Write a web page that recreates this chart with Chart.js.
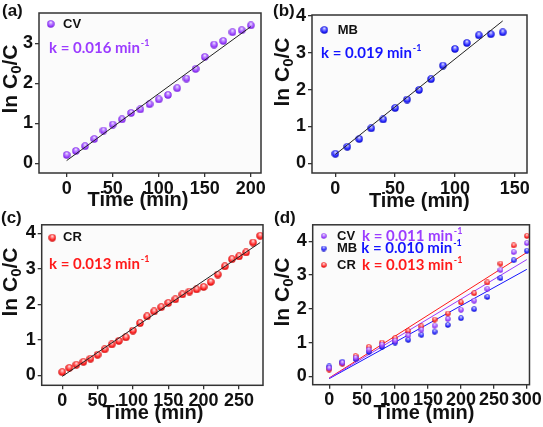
<!DOCTYPE html>
<html>
<head>
<meta charset="utf-8">
<script src="https://cdn.jsdelivr.net/npm/chart.js@4.4.0/dist/chart.umd.min.js"></script>
<style>
  body { margin: 0; background: #fff; width: 543px; height: 427px; overflow: hidden; position: relative; }
  canvas { position: absolute; }
  .lbl { position: absolute; font-family: "Liberation Sans", Arial, sans-serif; font-weight: bold; font-size: 17px; line-height: 17px; color: #111; }
</style>
</head>
<body>
<canvas id="chartA" width="272" height="212" style="left:0;top:0"></canvas>
<canvas id="chartB" width="271" height="212" style="left:272px;top:0"></canvas>
<canvas id="chartC" width="272" height="215" style="left:0;top:212px"></canvas>
<canvas id="chartD" width="271" height="215" style="left:272px;top:212px"></canvas>
<div class="lbl" style="left:2px;top:2px">(a)</div>
<div class="lbl" style="left:273px;top:2px">(b)</div>
<div class="lbl" style="left:1px;top:209px">(c)</div>
<div class="lbl" style="left:274px;top:209px">(d)</div>
<script>
// (a) CV
var xTicksA = [0, 50, 100, 150, 200];
var yTicksA = [0, 1, 2, 3];
var timeA = [0, 10, 20, 30, 40, 50, 60, 70, 80, 90, 100, 110, 120, 130, 140, 150, 160, 170, 180, 190, 200];
var cvA = [0.21, 0.31, 0.43, 0.61, 0.82, 0.97, 1.10, 1.26, 1.35, 1.48, 1.60, 1.71, 1.88, 2.12, 2.36, 2.66, 2.97, 3.06, 3.28, 3.33, 3.45];
var fitTimeA = [0, 200];
var fitA = [0.07, 3.42];

// (b) MB
var xTicksB = [0, 50, 100, 150];
var yTicksB = [0, 1, 2, 3, 4];
var timeB = [0, 10, 20, 30, 40, 50, 60, 70, 80, 90, 100, 110, 120, 130, 140];
var mbB = [0.26, 0.45, 0.66, 0.95, 1.19, 1.50, 1.73, 1.99, 2.28, 2.65, 3.10, 3.26, 3.47, 3.50, 3.55];
var fitTimeB = [0, 140];
var fitB = [0.24, 3.86];

// (c) CR
var xTicksC = [0, 50, 100, 150, 200, 250];
var yTicksC = [0, 1, 2, 3, 4];
var timeC = [0, 10, 20, 30, 40, 50, 60, 70, 80, 90, 100, 110, 120, 130, 140, 150, 160, 170, 180, 190, 200, 210, 220, 230, 240, 250, 260, 270, 280];
var crC = [0.09, 0.21, 0.30, 0.38, 0.47, 0.58, 0.73, 0.87, 0.97, 1.07, 1.26, 1.47, 1.66, 1.80, 1.92, 2.04, 2.14, 2.28, 2.36, 2.42, 2.49, 2.63, 2.84, 3.07, 3.27, 3.35, 3.46, 3.74, 3.93];
var fitTimeC = [0, 280];
var fitC = [-0.03, 3.74];

// (d) all three
var xTicksD = [0, 50, 100, 150, 200, 250, 300];
var yTicksD = [0, 1, 2, 3, 4];
var timeD = [0, 20, 40, 60, 80, 100, 120, 140, 160, 180, 200, 220, 240, 260, 280, 300];
var cvD = [0.24, 0.40, 0.55, 0.79, 0.94, 1.06, 1.21, 1.38, 1.50, 1.70, 1.97, 2.24, 2.59, 3.15, 3.68, 3.95];
var mbD = [0.29, 0.43, 0.51, 0.72, 0.87, 1.00, 1.08, 1.23, 1.32, 1.52, 1.72, 1.99, 2.35, 2.91, 3.44, 3.72];
var crD = [0.20, 0.37, 0.60, 0.87, 1.00, 1.13, 1.34, 1.48, 1.68, 1.86, 2.19, 2.46, 2.78, 3.34, 3.88, 4.16];
var fitTimeD = [0, 300];
var fitCvD = [-0.06, 3.46];
var fitMbD = [-0.07, 3.17];
var fitCrD = [-0.05, 3.67];

var PURPLE = "#9b3cff", BLUE = "#1414ff", RED = "#ff1a1a";
var FONT = '"Liberation Sans", Arial, sans-serif';

function pts(xs, ys) {
  return xs.map(function (x, i) { return { x: x, y: ys[i] }; });
}

// little shaded sphere used as marker
function ball(light, col, dark, d) {
  var c = document.createElement("canvas");
  c.width = d; c.height = d;
  var g = c.getContext("2d");
  var r = d / 2;
  var grad = g.createRadialGradient(r, r * 0.5, 0, r, r, r);
  grad.addColorStop(0, "#ffffff");
  grad.addColorStop(0.3, light);
  grad.addColorStop(0.7, col);
  grad.addColorStop(1, dark);
  g.fillStyle = grad;
  g.beginPath(); g.arc(r, r, r - 0.3, 0, Math.PI * 2); g.fill();
  return c;
}

var ballCv = ball("#c9a0ff", "#9a40ff", "#6a1ad0", 8), ballMb = ball("#9090ff", "#2222ff", "#0000b0", 8), ballCr = ball("#ff9a9a", "#ff2020", "#c00000", 8);
var ballCvS = ball("#c9a0ff", "#9a40ff", "#6a1ad0", 6), ballMbS = ball("#9090ff", "#2222ff", "#0000b0", 6), ballCrS = ball("#ff9a9a", "#ff2020", "#c00000", 6);

function scatterSet(label, data, img) {
  return { label: label, data: data, pointStyle: img, pointRadius: 4, showLine: false };
}
function fitSet(data, color) {
  return { label: "fit", data: data, showLine: true, borderColor: color, borderWidth: 1, pointRadius: 0, fill: false };
}

var deco = {
  id: "deco",
  beforeDraw: function (chart) {
    var a = chart.chartArea, c = chart.ctx;
    c.save();
    c.fillStyle = "#fbfbfb";
    c.fillRect(a.left, a.top, a.right - a.left, a.bottom - a.top);
    c.restore();
  },
  afterDraw: function (chart, args, o) {
    var a = chart.chartArea, c = chart.ctx;
    c.save();
    c.strokeStyle = "#333"; c.lineWidth = 1.5;
    c.strokeRect(a.left, a.top, a.right - a.left, a.bottom - a.top);

    c.fillStyle = "#111";
    c.font = "bold 20px " + FONT;
    c.textAlign = "center"; c.textBaseline = "middle";
    c.fillText("Time (min)", o.xt[0], o.xt[1]);

    // y title: ln C0/C, rotated
    c.save();
    c.translate(o.yt[0], o.yt[1]); c.rotate(-Math.PI / 2);
    var big = "bold 21px " + FONT, small = "bold 15px " + FONT;
    c.font = big;
    var w1 = c.measureText("ln C").width, w3 = c.measureText("/C").width;
    c.font = small;
    var w2 = c.measureText("0").width;
    var x0 = -(w1 + w2 + w3) / 2;
    c.textAlign = "left"; c.textBaseline = "alphabetic";
    c.font = big; c.fillText("ln C", x0, 7);
    c.font = small; c.fillText("0", x0 + w1, 11);
    c.font = big; c.fillText("/C", x0 + w1 + w2, 7);
    c.restore();

    // legend rows
    o.items.forEach(function (it) {
      var ds = chart.data.datasets[it.ds];
      var img = ds.pointStyle;
      c.drawImage(img, it.bx - img.width / 2, it.y - img.height / 2);
      c.fillStyle = "#111";
      c.font = "bold 13px " + FONT;
      c.textAlign = "left"; c.textBaseline = "middle";
      c.fillText(ds.label, it.nx, it.y);
      if (it.k) {
        var ky = it.ky !== undefined ? it.ky : it.y;
        c.fillStyle = it.kc;
        c.font = "bold 15px Lato";
        c.textBaseline = "middle";
        c.fillText(it.k, it.kx, ky);
        var kw = c.measureText(it.k).width;
        c.font = "bold 9px Lato";
        c.fillText("-1", it.kx + kw + 1, ky - 5);
      }
    });
    c.restore();
  }
};

function makePanel(id, p) {
  var tickFont = { family: FONT, size: 18, weight: "bold" };
  new Chart(document.getElementById(id), {
    type: "scatter",
    data: { datasets: p.datasets },
    options: {
      responsive: false,
      animation: false,
      layout: { padding: p.pad },
      plugins: { legend: { display: false }, tooltip: { enabled: false }, deco: p.deco },
      scales: {
        x: {
          type: "linear", min: p.x[0], max: p.x[1],
          afterBuildTicks: function (s) { s.ticks = p.xTicks.map(function (v) { return { value: v }; }); },
          afterFit: function (s) { s.height = p.xh; },
          grid: { drawOnChartArea: false, tickLength: 4, color: "#333", lineWidth: 1.3 },
          border: { display: false },
          ticks: { color: "#111", font: tickFont, padding: 1, maxRotation: 0, autoSkip: false }
        },
        y: {
          type: "linear", min: p.y[0], max: p.y[1],
          afterBuildTicks: function (s) { s.ticks = p.yTicks.map(function (v) { return { value: v }; }); },
          afterFit: function (s) { s.width = p.yw; },
          grid: { drawOnChartArea: false, tickLength: 4, color: "#333", lineWidth: 1.3 },
          border: { display: false },
          ticks: { color: "#111", font: tickFont, padding: 2, autoSkip: false }
        }
      }
    },
    plugins: [deco]
  });
}

makePanel("chartA", {
  x: [-30, 211], y: [-0.24, 3.76], xTicks: xTicksA, yTicks: yTicksA,
  pad: { top: 13, right: 11, left: 0, bottom: 0 }, yw: 39, xh: 39,
  datasets: [fitSet(pts(fitTimeA, fitA), "#222"), scatterSet("CV", pts(timeA, cvA), ballCv)],
  deco: { xt: [138, 200], yt: [10, 79],
    items: [{ ds: 1, bx: 50.7, nx: 63, y: 24, k: "k = 0.016 min", kx: 49, ky: 47.7, kc: PURPLE }] }
});

makePanel("chartB", {
  x: [-19.5, 160.3], y: [-0.26, 4.02], xTicks: xTicksB, yTicks: yTicksB,
  pad: { top: 15, right: 16, left: 0, bottom: 0 }, yw: 40, xh: 39,
  datasets: [fitSet(pts(fitTimeB, fitB), "#222"), scatterSet("MB", pts(timeB, mbB), ballMb)],
  deco: { xt: [147.3, 201.7], yt: [10, 72],
    items: [{ ds: 1, bx: 52.3, nx: 65.7, y: 30, k: "k = 0.019 min", kx: 49, ky: 52.7, kc: BLUE }] }
});

makePanel("chartC", {
  x: [-29, 284], y: [-0.28, 4.24], xTicks: xTicksC, yTicks: yTicksC,
  pad: { top: 11.7, right: 9, left: 0, bottom: 0 }, yw: 41.7, xh: 41.7,
  datasets: [fitSet(pts(fitTimeC, fitC), "#222"), scatterSet("CR", pts(timeC, crC), ballCr)],
  deco: { xt: [153, 201.7], yt: [10, 70],
    items: [{ ds: 1, bx: 52.3, nx: 63, y: 25.7, k: "k = 0.013 min", kx: 49, ky: 51.7, kc: RED }] }
});

makePanel("chartD", {
  x: [-25, 304], y: [-0.25, 4.49], xTicks: xTicksD, yTicks: yTicksD,
  pad: { top: 11.7, right: 11, left: 0, bottom: 0 }, yw: 40.7, xh: 42.3,
  datasets: [
    scatterSet("CV", pts(timeD, cvD), ballCvS),
    scatterSet("MB", pts(timeD, mbD), ballMbS),
    scatterSet("CR", pts(timeD, crD), ballCrS),
    fitSet(pts(fitTimeD, fitCvD), PURPLE),
    fitSet(pts(fitTimeD, fitMbD), BLUE),
    fitSet(pts(fitTimeD, fitCrD), RED)
  ],
  deco: { xt: [152, 201.7], yt: [10, 80],
    items: [
      { ds: 0, bx: 51.7, nx: 65, y: 24, k: "k = 0.011 min", kx: 90, kc: PURPLE },
      { ds: 1, bx: 51.7, nx: 65, y: 36.5, k: "k = 0.010 min", kx: 89.3, kc: BLUE },
      { ds: 2, bx: 51.7, nx: 65, y: 53, k: "k = 0.013 min", kx: 90, kc: RED }
    ] }
});
</script>
</body>
</html>
